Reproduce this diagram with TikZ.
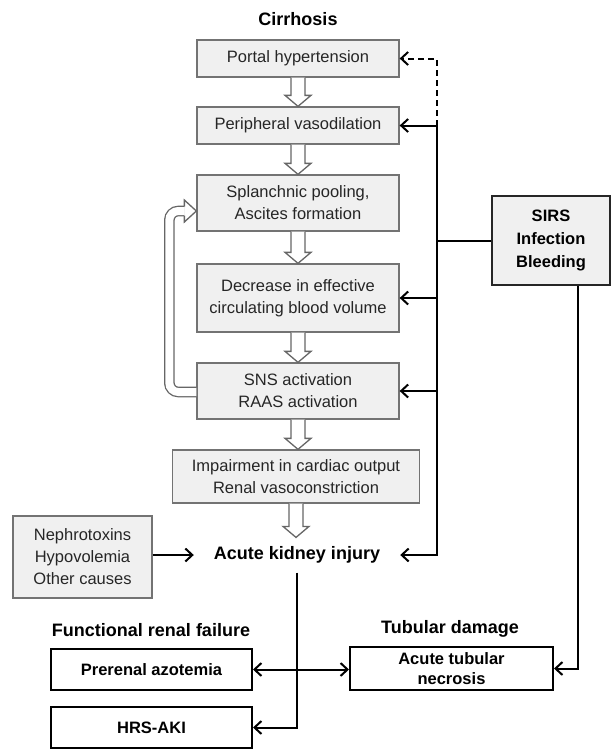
\documentclass[tikz,border=0pt]{standalone}
\usepackage{fontspec}
\setmainfont{Liberation Sans}
\usetikzlibrary{arrows.meta}
\usetikzlibrary{calc}

\tikzset{
  stage/.style={draw=black!55, fill=black!6, line width=1.3pt, align=center, inner sep=0pt,
    minimum width=202pt, text=black!85, font=\fontsize{16.5}{22}\selectfont},
  outcome/.style={draw=black, fill=white, line width=2pt, align=center, inner sep=0pt,
    minimum width=201pt, minimum height=41pt, font=\bfseries\fontsize{16.5}{22}\selectfont},
  heading/.style={font=\bfseries\fontsize{18}{22}\selectfont},
  hollow/.style={draw=black!60, fill=white, line width=1.3pt},
  feedback/.style={draw=black!60, line width=1.3pt, double=white, double distance=8pt, rounded corners=9pt},
  link/.style={line width=2pt, ->}
}

\newcommand{\fatarrow}[2]{%
  \draw[hollow] let \p1=(#1), \p2=(#2) in
    (\x1-7pt,\y1) -- (\x1-7pt,\y2+11pt) -- (\x1-13pt,\y2+11pt) -- (\x1,\y2)
    -- (\x1+13pt,\y2+11pt) -- (\x1+7pt,\y2+11pt) -- (\x1+7pt,\y1);}

\begin{document}
\begin{tikzpicture}[x=1pt,y=-1pt,>={Straight Barb[length=7pt,width=13pt]}]
  \useasboundingbox (0,0) rectangle (612,750);

  \node[heading] (cirrhosis) at (298,19) {Cirrhosis};
  \node[stage, minimum height=37pt] (portal) at (298,58.5) {Portal hypertension};
  \node[stage, minimum height=37pt] (periph) at (298,125.5) {Peripheral vasodilation};
  \node[stage, minimum height=56pt] (splanch) at (298,203) {Splanchnic pooling,\\Ascites formation};
  \node[stage, minimum height=68pt] (decrease) at (298,298) {Decrease in effective\\circulating blood volume};
  \node[stage, minimum height=56pt] (sns) at (298,391) {SNS activation\\RAAS activation};
  \node[stage, minimum width=247pt, minimum height=53pt] (impair) at (296,476.5) {Impairment in cardiac output\\Renal vasoconstriction};
  \node[heading, inner ysep=9pt, inner xsep=20pt] (aki) at (297,555) {Acute kidney injury};
  \node[stage, minimum width=139pt, minimum height=82pt] (neph) at (82.5,557) {Nephrotoxins\\Hypovolemia\\Other causes};
  \node[stage, draw=black!85, line width=2pt, minimum width=118pt, minimum height=89pt,
    text=black, font=\bfseries\fontsize{16.5}{23}\selectfont] (sirs) at (551,240.5) {SIRS\\Infection\\Bleeding};
  \node[heading] (frf) at (151,630) {Functional renal failure};
  \node[heading] (tubular) at (450,629) {Tubular damage};
  \node[outcome] (prerenal) at (151.5,669.5) {Prerenal azotemia};
  \node[outcome] (hrs) at (151.5,727.5) {HRS-AKI};
  \node[outcome, minimum width=203pt, minimum height=43pt,
    font=\bfseries\fontsize{16.5}{20}\selectfont] (atn) at (451.5,668.5) {Acute tubular\\necrosis};

  % main cascade
  \foreach \a/\b in {portal/periph, periph/splanch, splanch/decrease, decrease/sns, sns/impair, impair/aki}
    \fatarrow{\a.south}{\b.north};

  \coordinate (loophead) at ($(splanch.west)+(0,8)$);
  \draw[feedback] ($(sns.west)+(0,1)$) -- ++(-27,0) |- ($(loophead)+(-12,0)$);
  \draw[hollow] ($(loophead)+(-12,-4.5)$) -- ++(0,-6.5) -- (loophead)
    -- ($(loophead)+(-12,11)$) -- ++(0,-6.5);

  % SIRS bus
  \coordinate (busx) at (437,0);
  \coordinate (dropx) at (578,0);
  \draw[link] (periph.east -| busx) |- (aki.east);
  \foreach \n in {periph,decrease,sns}
    \draw[link] (\n.east -| busx) -- (\n.east);
  \draw[link, dash pattern=on 6pt off 4pt] (periph.east -| busx) |- (portal.east);
  \draw[line width=2pt] (sirs.west) -- (sirs.west -| busx);
  \draw[link] (sirs.south -| dropx) |- (atn.east);

  \draw[link] (neph.east |- aki.west) -- (aki.west);
  \draw[link] (aki.south) |- (hrs.east);
  \draw[link, <->] (prerenal.east) -- (prerenal.east -| atn.west);
\end{tikzpicture}
\end{document}
